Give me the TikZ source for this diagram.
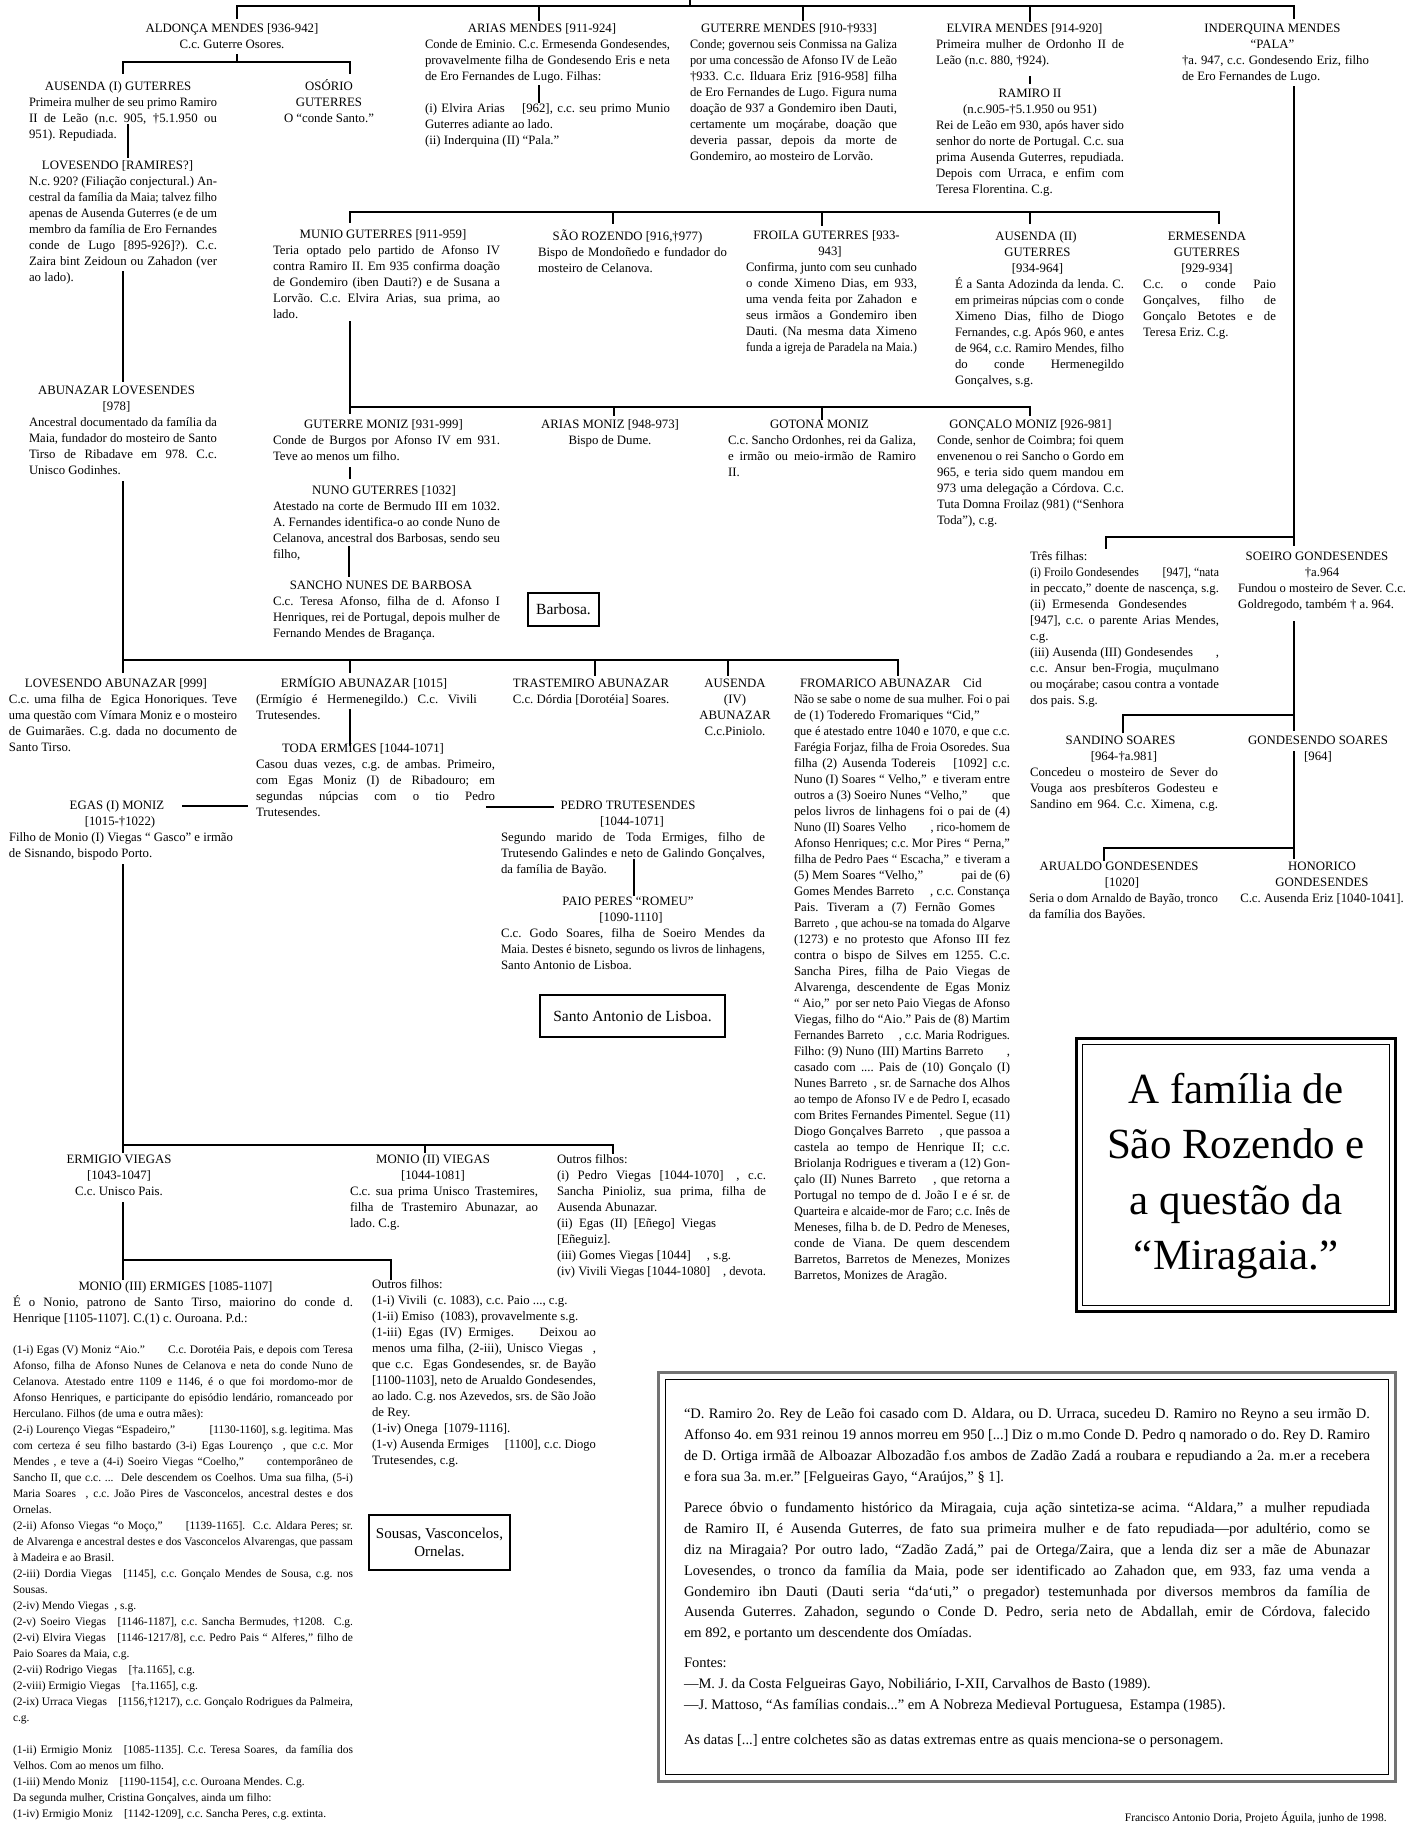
\documentclass[tikz,border=0pt]{standalone}
\usepackage{fontspec}
\setmainfont{Liberation Serif}
\usepackage{graphicx}
\hbadness=10000
\hfuzz=3pt
\newsavebox\lnbox
\newcommand\fb{\fontsize{12.8}{16}\selectfont}
\newcommand\fsm{\fontsize{11.5}{16}\selectfont}
\newcommand\fbx{\fontsize{14.5}{20.8}\selectfont}
\newcommand\sr{\vrule height 0.93em depth 0.27em width 0pt}
\newcommand\Jl[1]{\par\sbox\lnbox{#1}\ifdim\wd\lnbox>\hsize
  \hbox to\hsize{\sr\resizebox{\hsize}{\height}{\usebox\lnbox}}\else
  \hbox to\hsize{\sr#1}\fi}
\newcommand\Kl[1]{\par\sbox\lnbox{#1}\ifdim\wd\lnbox>\hsize
  \hbox to\hsize{\sr\resizebox{\hsize}{\height}{\usebox\lnbox}}\else
  \hbox to\hsize{\sr#1\hfil}\fi}
\newcommand\Cl[2][0pt]{\par\sbox\lnbox{#2}\ifdim\wd\lnbox>\hsize
  \hbox to\hsize{\sr\resizebox{\hsize}{\height}{\usebox\lnbox}}\else
  \hbox to\hsize{\sr\hfil\hskip#1\relax\usebox\lnbox\hfil}\fi}
\newcommand\Bl{\par\hbox{\sr}}
\newcommand\blk[6][\fb]{\node[blkn] (#2) at (#3,{#4-8.2}) {\vbox{#1\frenchspacing\hsize=#5pt\relax#6}};}
\tikzset{
  blkn/.style={anchor=north west, inner sep=0pt, outer sep=0pt},
  ln/.style={line width=1.3pt, line cap=rect},
  boxn/.style={draw, line width=2.5pt, inner sep=0pt, align=center},
}
\begin{document}
\frenchspacing
\begin{tikzpicture}[x=1pt,y=-1pt]
\useasboundingbox (0,0) rectangle (1407,1823);
\fill[white] (0,0) rectangle (1407,1823);

% ---------------- top row
\blk{aldonca}{132}{29}{200}{\Cl{ALDONÇA MENDES [936-942]}\Cl{C.c. Guterre Osores.}}
\blk{arias}{425}{29}{245}{\Cl[-11pt]{ARIAS MENDES [911-924]}\Jl{Conde de Eminio. C.c. Ermesenda Gondesendes,}\Jl{provavelmente filha de Gondesendo Eris e neta}\Kl{de Ero Fernandes de Lugo. Filhas:}\Bl\Jl{(i) Elvira Arias\quad\ [962], c.c. seu primo Munio}\Kl{Guterres adiante ao lado.}\Kl{(ii) Inderquina (II) “Pala.”}}
\blk{guterre}{690}{29}{207}{\Cl[-9pt]{GUTERRE MENDES [910-†933]}\Jl{Conde; governou seis Conmissa na Galiza}\Jl{por uma concessão de Afonso IV de Leão}\Jl{†933. C.c. Ilduara Eriz [916-958] filha}\Jl{de Ero Fernandes de Lugo. Figura numa}\Jl{doação de 937 a Gondemiro iben Dauti,}\Jl{certamente um moçárabe, doação que}\Jl{deveria passar, depois da morte de}\Kl{Gondemiro, ao mosteiro de Lorvão.}}
\blk{elvira}{936}{29}{188}{\Cl[-11pt]{ELVIRA MENDES [914-920]}\Jl{Primeira mulher de Ordonho II de}\Kl{Leão (n.c. 880, †924).}}
\blk{ramiro}{936}{94}{188}{\Cl{RAMIRO II}\Cl{(n.c.905-†5.1.950 ou 951)}\Jl{Rei de Leão em 930, após haver sido}\Jl{senhor do norte de Portugal. C.c. sua}\Jl{prima Ausenda Guterres, repudiada.}\Jl{Depois com Urraca, e enfim com}\Kl{Teresa Florentina. C.g.}}
\blk{inderquina}{1182}{29}{187}{\Cl[-6pt]{INDERQUINA MENDES}\Cl[-6pt]{“PALA”}\Jl{†a. 947, c.c. Gondesendo Eriz, filho}\Kl{de Ero Fernandes de Lugo.}}

% ---------------- left column
\blk{ausendaA}{29}{86.5}{188}{\Cl[-10pt]{AUSENDA (I) GUTERRES}\Jl{Primeira mulher de seu primo Ramiro}\Jl{II de Leão (n.c. 905, †5.1.950 ou}\Kl{951). Repudiada.}}
\blk{osorio}{279}{86.5}{100}{\Cl{OSÓRIO}\Cl{GUTERRES}\Cl{O “conde Santo.”}}
\blk{lovesendo}{29}{166}{188}{\Cl[-11pt]{LOVESENDO [RAMIRES?]}\Jl{N.c. 920? (Filiação conjectural.) An-}\Jl{cestral da família da Maia; talvez filho}\Jl{apenas de Ausenda Guterres (e de um}\Jl{membro da família de Ero Fernandes}\Jl{conde de Lugo [895-926]?). C.c.}\Jl{Zaira bint Zeidoun ou Zahadon (ver}\Kl{ao lado).}}
\blk{abunazar}{29}{391}{188}{\Cl[-13pt]{ABUNAZAR LOVESENDES}\Cl[-13pt]{[978]}\Jl{Ancestral documentado da família da}\Jl{Maia, fundador do mosteiro de Santo}\Jl{Tirso de Ribadave em 978. C.c.}\Kl{Unisco Godinhes.}}

% ---------------- second row
\blk{munio}{273}{235}{227}{\Cl[-7pt]{MUNIO GUTERRES [911-959]}\Jl{Teria optado pelo partido de Afonso IV}\Jl{contra Ramiro II. Em 935 confirma doação}\Jl{de Gondemiro (iben Dauti?) e de Susana a}\Jl{Lorvão. C.c. Elvira Arias, sua prima, ao}\Kl{lado.}}
\blk{rozendo}{538}{237}{189}{\Cl[-10pt]{SÃO ROZENDO [916,†977)}\Jl{Bispo de Mondoñedo e fundador do}\Kl{mosteiro de Celanova.}}
\blk{froila}{746}{236}{171}{\Cl[-10pt]{FROILA GUTERRES [933-}\Cl[-3pt]{943]}\Jl{Confirma, junto com seu cunhado}\Jl{o conde Ximeno Dias, em 933,}\Jl{uma venda feita por Zahadon\ \ e}\Jl{seus irmãos a Gondemiro iben}\Jl{Dauti. (Na mesma data Ximeno}\Jl{funda a igreja de Paradela na Maia.)}}
\blk{ausendaB}{955}{237}{169}{\Cl[-7pt]{AUSENDA (II)}\Cl[-4pt]{GUTERRES}\Cl[-4pt]{[934-964]}\Jl{É a Santa Adozinda da lenda. C.}\Jl{em primeiras núpcias com o conde}\Jl{Ximeno Dias, filho de Diogo}\Jl{Fernandes, c.g. Após 960, e antes}\Jl{de 964, c.c. Ramiro Mendes, filho}\Jl{do conde Hermenegildo}\Kl{Gonçalves, s.g.}}
\blk{ermesenda}{1143}{237}{133}{\Cl[-5pt]{ERMESENDA}\Cl[-5pt]{GUTERRES}\Cl[-5pt]{[929-934]}\Jl{C.c. o conde Paio}\Jl{Gonçalves, filho de}\Jl{Gonçalo Betotes e de}\Kl{Teresa Eriz. C.g.}}

% ---------------- third row
\blk{gmoniz}{273}{425}{227}{\Cl[-6pt]{GUTERRE MONIZ [931-999]}\Jl{Conde de Burgos por Afonso IV em 931.}\Kl{Teve ao menos um filho.}}
\blk{nuno}{273}{491}{227}{\Cl[-5pt]{NUNO GUTERRES [1032]}\Jl{Atestado na corte de Bermudo III em 1032.}\Jl{A. Fernandes identifica-o ao conde Nuno de}\Jl{Celanova, ancestral dos Barbosas, sendo seu}\Kl{filho,}}
\blk{sancho}{273}{586}{227}{\Cl[-11pt]{SANCHO NUNES DE BARBOSA}\Jl{C.c. Teresa Afonso, filha de d. Afonso I}\Jl{Henriques, rei de Portugal, depois mulher de}\Kl{Fernando Mendes de Bragança.}}
\blk{amoniz}{540}{425}{140}{\Cl{ARIAS MONIZ [948-973]}\Cl{Bispo de Dume.}}
\blk{gotona}{728}{425}{188}{\Cl[-5pt]{GOTONA MONIZ}\Jl{C.c. Sancho Ordonhes, rei da Galiza,}\Jl{e irmão ou meio-irmão de Ramiro}\Kl{II.}}
\blk{goncalo}{937}{425}{187}{\Cl{GONÇALO MONIZ [926-981]}\Jl{Conde, senhor de Coimbra; foi quem}\Jl{envenenou o rei Sancho o Gordo em}\Jl{965, e teria sido quem mandou em}\Jl{973 uma delegação a Córdova. C.c.}\Jl{Tuta Domna Froilaz (981) (“Senhora}\Kl{Toda”), c.g.}}

% ---------------- right column
\blk{tres}{1030}{557}{189}{\Kl{Três filhas:}\Jl{(i) Froilo Gondesendes\qquad [947], “nata}\Jl{in peccato,” doente de nascença, s.g.}\Kl{(ii)\ \ Ermesenda\ \ \ Gondesendes}\Jl{[947], c.c. o parente Arias Mendes,}\Kl{c.g.}\Jl{(iii) Ausenda (III) Gondesendes\hfill,}\Jl{c.c. Ansur ben-Frogia, muçulmano}\Jl{ou moçárabe; casou contra a vontade}\Kl{dos pais. S.g.}}
\blk{soeiro}{1238}{557}{168}{\Cl[-10pt]{SOEIRO GONDESENDES}\Cl{†a.964}\Jl{Fundou o mosteiro de Sever. C.c.}\Kl{Goldregodo, também † a. 964.}}
\blk{sandino}{1030}{741}{188}{\Cl[-7pt]{SANDINO SOARES}\Cl{[964-†a.981]}\Jl{Concedeu o mosteiro de Sever do}\Jl{Vouga aos presbíteros Godesteu e}\Jl{Sandino em 964. C.c. Ximena, c.g.}}
\blk{gondesendo}{1238}{741}{160}{\Cl{GONDESENDO SOARES}\Cl{[964]}}
\blk{arualdo}{1029}{867}{189}{\Cl[-9pt]{ARUALDO GONDESENDES}\Cl[-3pt]{[1020]}\Jl{Seria o dom Arnaldo de Bayão, tronco}\Kl{da família dos Bayões.}}
\blk{honorico}{1237}{867}{170}{\Cl{HONORICO}\Cl{GONDESENDES}\Cl{C.c. Ausenda Eriz [1040-1041].}}

% ---------------- Abunazar's children
\blk{lovab}{9}{684}{228}{\Cl[-14pt]{LOVESENDO ABUNAZAR [999]}\Jl{C.c. uma filha de\ \ Egica Honoriques. Teve}\Jl{uma questão com Vímara Moniz e o mosteiro}\Jl{de Guimarães. C.g. dada no documento de}\Kl{Santo Tirso.}}
\blk{egas}{9}{806}{224}{\Cl[-8pt]{EGAS (I) MONIZ}\Cl[-2pt]{[1015-†1022)}\Jl{Filho de Monio (I) Viegas “ Gasco” e irmão}\Kl{de Sisnando, bispodo Porto.}}
\blk{ermigio}{256}{684}{221}{\Cl[-5pt]{ERMÍGIO ABUNAZAR [1015]}\Jl{(Ermígio é Hermenegildo.) C.c. Vivili}\Kl{Trutesendes.}}
\blk{toda}{256}{749}{239}{\Cl[-25pt]{TODA ERMIGES [1044-1071]}\Jl{Casou duas vezes, c.g. de ambas. Primeiro,}\Jl{com Egas Moniz (I) de Ribadouro; em}\Jl{segundas núpcias com o tio Pedro}\Kl{Trutesendes.}}
\blk{trast}{491}{684}{200}{\Cl{TRASTEMIRO ABUNAZAR}\Cl{C.c. Dórdia [Dorotéia] Soares.}}
\blk{ausendaD}{695}{684}{80}{\Cl{AUSENDA}\Cl{(IV)}\Cl{ABUNAZAR}\Cl{C.c.Piniolo.}}
\blk{fromarico}{794}{684}{216}{\Kl{\hskip6pt FROMARICO ABUNAZAR\quad Cid}\Jl{Não se sabe o nome de sua mulher. Foi o pai}\Kl{de (1) Toderedo Fromariques “Cid,”}\Jl{que é atestado entre 1040 e 1070, e que c.c.}\Jl{Farégia Forjaz, filha de Froia Osoredes. Sua}\Jl{filha (2) Ausenda Todereis\quad\ [1092] c.c.}\Jl{Nuno (I) Soares “ Velho,”\ \ e tiveram entre}\Jl{outros a (3) Soeiro Nunes “Velho,”\qquad que}\Jl{pelos livros de linhagens foi o pai de (4)}\Jl{Nuno (II) Soares Velho\qquad , rico-homem de}\Jl{Afonso Henriques; c.c. Mor Pires “ Perna,”}\Jl{filha de Pedro Paes “ Escacha,”\ \ e tiveram a}\Jl{(5) Mem Soares “Velho,”\qquad\quad pai de (6)}\Jl{Gomes Mendes Barreto\quad\ , c.c. Constança}\Jl{Pais. Tiveram a (7) Fernão Gomes\hskip15pt}\Jl{Barreto\ \ , que achou-se na tomada do Algarve}\Jl{(1273) e no protesto que Afonso III fez}\Jl{contra o bispo de Silves em 1255. C.c.}\Jl{Sancha Pires, filha de Paio Viegas de}\Jl{Alvarenga, descendente de Egas Moniz}\Jl{“ Aio,”\ \ por ser neto Paio Viegas de Afonso}\Jl{Viegas, filho do “Aio.” Pais de (8) Martim}\Jl{Fernandes Barreto\quad\ , c.c. Maria Rodrigues.}\Jl{Filho: (9) Nuno (III) Martins Barreto\hfill,}\Jl{casado com .... Pais de (10) Gonçalo (I)}\Jl{Nunes Barreto\ \ , sr. de Sarnache dos Alhos}\Jl{ao tempo de Afonso IV e de Pedro I, ecasado}\Jl{com Brites Fernandes Pimentel. Segue (11)}\Jl{Diogo Gonçalves Barreto\quad\ , que passoa a}\Jl{castela ao tempo de Henrique II; c.c.}\Jl{Briolanja Rodrigues e tiveram a (12) Gon-}\Jl{çalo (II) Nunes Barreto\quad\ , que retorna a}\Jl{Portugal no tempo de d. João I e é sr. de}\Jl{Quarteira e alcaide-mor de Faro; c.c. Inês de}\Jl{Meneses, filha b. de D. Pedro de Meneses,}\Jl{conde de Viana. De quem descendem}\Jl{Barretos, Barretos de Menezes, Monizes}\Kl{Barretos, Monizes de Aragão.}}
\blk{pedro}{501}{806}{264}{\Cl[-10pt]{PEDRO TRUTESENDES}\Cl[-2pt]{[1044-1071]}\Jl{Segundo marido de Toda Ermiges, filho de}\Jl{Trutesendo Galindes e neto de Galindo Gonçalves,}\Kl{da família de Bayão.}}
\blk{paio}{501}{902}{264}{\Cl[-10pt]{PAIO PERES “ROMEU”}\Cl[-4pt]{[1090-1110]}\Jl{C.c. Godo Soares, filha de Soeiro Mendes da}\Jl{Maia. Destes é bisneto, segundo os livros de linhagens,}\Kl{Santo Antonio de Lisboa.}}

% ---------------- Egas' children
\blk{ermvieg}{49}{1160}{140}{\Cl{ERMIGIO VIEGAS}\Cl{[1043-1047]}\Cl{C.c. Unisco Pais.}}
\blk{monioB}{350}{1160}{188}{\Cl[-22pt]{MONIO (II) VIEGAS}\Cl[-22pt]{[1044-1081]}\Jl{C.c. sua prima Unisco Trastemires,}\Jl{filha de Trastemiro Abunazar, ao}\Kl{lado. C.g.}}
\blk{outrosA}{557}{1160}{209}{\Kl{Outros filhos:}\Jl{(i) Pedro Viegas [1044-1070]\quad , c.c.}\Jl{Sancha Pinioliz, sua prima, filha de}\Kl{Ausenda Abunazar.}\Kl{(ii)\ \ Egas\ \ (II)\ \ [Eñego]\ \ Viegas}\Kl{[Eñeguiz].}\Kl{(iii) Gomes Viegas [1044]\quad\ , s.g.}\Jl{(iv) Vivili Viegas [1044-1080]\quad , devota.}}
\blk{monioC}{13}{1287}{340}{\Cl[-15pt]{MONIO (III) ERMIGES [1085-1107]}\Jl{É o Nonio, patrono de Santo Tirso, maiorino do conde d.}\Kl{Henrique [1105-1107]. C.(1) c. Ouroana. P.d.:}}
\blk[\fsm]{monioD}{13}{1351}{340}{\Jl{(1-i) Egas (V) Moniz “Aio.”\qquad C.c. Dorotéia Pais, e depois com Teresa}\Jl{Afonso, filha de Afonso Nunes de Celanova e neta do conde Nuno de}\Jl{Celanova. Atestado entre 1109 e 1146, é o que foi mordomo-mor de}\Jl{Afonso Henriques, e participante do episódio lendário, romanceado por}\Kl{Herculano. Filhos (de uma e outra mães):}\Jl{(2-i) Lourenço Viegas “Espadeiro,”\qquad\quad [1130-1160], s.g. legitima. Mas}\Jl{com certeza é seu filho bastardo (3-i) Egas Lourenço\ \ , que c.c. Mor}\Jl{Mendes , e teve a (4-i) Soeiro Viegas “Coelho,”\qquad contemporâneo de}\Jl{Sancho II, que c.c. ...\ \ Dele descendem os Coelhos. Uma sua filha, (5-i)}\Jl{Maria Soares\ \ , c.c. João Pires de Vasconcelos, ancestral destes e dos}\Kl{Ornelas.}\Jl{(2-ii) Afonso Viegas “o Moço,”\qquad [1139-1165].\ \ C.c. Aldara Peres; sr.}\Jl{de Alvarenga e ancestral destes e dos Vasconcelos Alvarengas, que passam}\Kl{à Madeira e ao Brasil.}\Jl{(2-iii) Dordia Viegas\quad [1145], c.c. Gonçalo Mendes de Sousa, c.g. nos}\Kl{Sousas.}\Kl{(2-iv) Mendo Viegas\ \ , s.g.}\Jl{(2-v) Soeiro Viegas\quad [1146-1187], c.c. Sancha Bermudes, †1208.\ \ C.g.}\Jl{(2-vi) Elvira Viegas\quad [1146-1217/8], c.c. Pedro Pais “ Alferes,” filho de}\Kl{Paio Soares da Maia, c.g.}\Kl{(2-vii) Rodrigo Viegas\quad [†a.1165], c.g.}\Kl{(2-viii) Ermigio Viegas\quad [†a.1165], c.g.}\Jl{(2-ix) Urraca Viegas\quad [1156,†1217), c.c. Gonçalo Rodrigues da Palmeira,}\Kl{c.g.}\Bl\Jl{(1-ii) Ermigio Moniz\quad [1085-1135]. C.c. Teresa Soares,\ \ da família dos}\Kl{Velhos. Com ao menos um filho.}\Kl{(1-iii) Mendo Moniz\quad [1190-1154], c.c. Ouroana Mendes. C.g.}\Kl{Da segunda mulher, Cristina Gonçalves, ainda um filho:}\Kl{(1-iv) Ermigio Moniz\quad [1142-1209], c.c. Sancha Peres, c.g. extinta.}}
\blk{outrosB}{372}{1285}{224}{\Kl{Outros filhos:}\Kl{(1-i) Vivili\ \ (c. 1083), c.c. Paio ..., c.g.}\Kl{(1-ii) Emiso\ \ (1083), provavelmente s.g.}\Jl{(1-iii) Egas (IV) Ermiges.\qquad Deixou ao}\Jl{menos uma filha, (2-iii), Unisco Viegas\ \ ,}\Jl{que c.c.\ \ Egas Gondesendes, sr. de Bayão}\Jl{[1100-1103], neto de Arualdo Gondesendes,}\Jl{ao lado. C.g. nos Azevedos, srs. de São João}\Kl{de Rey.}\Kl{(1-iv) Onega\ \ [1079-1116].}\Jl{(1-v) Ausenda Ermiges\quad\ [1100], c.c. Diogo}\Kl{Trutesendes, c.g.}}

% ---------------- boxes
\node[boxn, font=\fontsize{15.5}{18}\selectfont, minimum width=71pt, minimum height=33pt] (barbosa) at (563.5,609.5) {Barbosa.};
\node[boxn, font=\fontsize{15.5}{18}\selectfont, minimum width=185pt, minimum height=42pt] (lisboa) at (632.5,1016) {Santo Antonio de Lisboa.};
\node[boxn, font=\fontsize{15}{18}\selectfont, minimum width=141pt, minimum height=55pt] (sousas) at (439.5,1542.5) {Sousas, Vasconcelos,\\Ornelas.};

\node[draw, line width=3pt, minimum width=319pt, minimum height=273pt, inner sep=0pt] (tframeA) at (1235.5,1174.5) {};
\node[draw, line width=1pt, minimum width=307pt, minimum height=261pt, inner sep=0pt] (tframeB) at (1235.5,1174.5) {};
\node[font=\fontsize{43}{55.5}\selectfont, align=center, inner sep=0pt] (title) at (1236,1176) {A família de\\São Rozendo e\\a questão da\\“Miragaia.”};

\node[draw=black!55, line width=3pt, minimum width=737pt, minimum height=409pt, inner sep=0pt] (nframeA) at (1026.5,1576.5) {};
\node[draw, line width=0.9pt, minimum width=723pt, minimum height=395pt, inner sep=0pt] (nframeB) at (1026.5,1576.5) {};
\blk[\fbx]{noteA}{684}{1413.5}{686}{\Jl{“D. Ramiro 2o. Rey de Leão foi casado com D. Aldara, ou D. Urraca, sucedeu D. Ramiro no Reyno a seu irmão D.}\Jl{Affonso 4o. em 931 reinou 19 annos morreu em 950 [...] Diz o m.mo Conde D. Pedro q namorado o do. Rey D. Ramiro}\Jl{de D. Ortiga irmãã de Alboazar Albozadão f.os ambos de Zadão Zadá a roubara e repudiando a 2a. m.er a recebera}\Kl{e fora sua 3a. m.er.” [Felgueiras Gayo, “Araújos,” § 1].}}
\blk[\fbx]{noteB}{684}{1507.5}{686}{\Jl{Parece óbvio o fundamento histórico da Miragaia, cuja ação sintetiza-se acima. “Aldara,” a mulher repudiada}\Jl{de Ramiro II, é Ausenda Guterres, de fato sua primeira mulher e de fato repudiada—por adultério, como se}\Jl{diz na Miragaia? Por outro lado, “Zadão Zadá,” pai de Ortega/Zaira, que a lenda diz ser a mãe de Abunazar}\Jl{Lovesendes, o tronco da família da Maia, pode ser identificado ao Zahadon que, em 933, faz uma venda a}\Jl{Gondemiro ibn Dauti (Dauti seria “da‘uti,” o pregador) testemunhada por diversos membros da família de}\Jl{Ausenda Guterres. Zahadon, segundo o Conde D. Pedro, seria neto de Abdallah, emir de Córdova, falecido}\Kl{em 892, e portanto um descendente dos Omíadas.}}
\blk[\fbx]{noteC}{684}{1662.5}{686}{\Kl{Fontes:}\Kl{—M. J. da Costa Felgueiras Gayo, Nobiliário, I-XII, Carvalhos de Basto (1989).}\Kl{—J. Mattoso, “As famílias condais...” em A Nobreza Medieval Portuguesa,\ \ Estampa (1985).}}
\blk[\fbx]{noteD}{684}{1739.5}{686}{\Kl{As datas [...] entre colchetes são as datas extremas entre as quais menciona-se o personagem.}}
\node[anchor=base east, inner sep=0pt, font=\fontsize{11.5}{13}\selectfont] (footer) at (1387,1821) {Francisco Antonio Doria, Projeto Águila, junho de 1998.};

% ---------------- connector coordinates
\coordinate (t0) at (690,0); \coordinate (t1) at (690,6);
\coordinate (ta) at (237,6); \coordinate (tb) at (1294,6);
\coordinate (t2) at (539,6); \coordinate (t3) at (803,6); \coordinate (t4) at (1030,6);
\coordinate (d1) at (237,18); \coordinate (d2) at (539,20); \coordinate (d3) at (803,20);
\coordinate (d4) at (1030,21); \coordinate (d5) at (1294,18);
\coordinate (a0) at (237,55); \coordinate (a1) at (237,62);
\coordinate (a2) at (123,62); \coordinate (a3) at (350,62);
\coordinate (a4) at (123,73); \coordinate (a5) at (350,73);
\coordinate (b0) at (128,125); \coordinate (b1) at (128,157);
\coordinate (b2) at (123,272); \coordinate (b3) at (123,381);
\coordinate (c0) at (539,86); \coordinate (c1) at (539,102);
\coordinate (c2) at (1030,77); \coordinate (c3) at (1030,83);
\coordinate (g0) at (350,212); \coordinate (g1) at (1219,212);
\coordinate (g2) at (350,222); \coordinate (g3) at (613,212); \coordinate (g4) at (613,223);
\coordinate (g5) at (822,212); \coordinate (g6) at (822,225);
\coordinate (g7) at (1030,212); \coordinate (g8) at (1030,223); \coordinate (g9) at (1219,223);
\coordinate (m0) at (350,322); \coordinate (m1) at (350,407); \coordinate (m2) at (1030,407);
\coordinate (m3) at (350,413); \coordinate (m4) at (614,407); \coordinate (m5) at (614,415);
\coordinate (m6) at (822,407); \coordinate (m7) at (822,419); \coordinate (m8) at (1030,415);
\coordinate (n0) at (350,468); \coordinate (n1) at (350,478);
\coordinate (n2) at (349,547); \coordinate (n3) at (349,576);
\coordinate (i0) at (1294,87); \coordinate (i1) at (1294,545);
\coordinate (i2) at (1106,537); \coordinate (i3) at (1294,537); \coordinate (i4) at (1106,548);
\coordinate (s0) at (1294,622); \coordinate (s1) at (1294,730);
\coordinate (s2) at (1123,715); \coordinate (s3) at (1294,715); \coordinate (s4) at (1123,732);
\coordinate (s5) at (1294,752); \coordinate (s6) at (1294,858);
\coordinate (s7) at (1104,848); \coordinate (s8) at (1294,848); \coordinate (s9) at (1104,860);
\coordinate (e0) at (123,482); \coordinate (e1) at (123,672);
\coordinate (e2) at (123,660); \coordinate (e3) at (898,660); \coordinate (e4) at (898,675);
\coordinate (e5) at (350,660); \coordinate (e6) at (350,672);
\coordinate (e7) at (595,660); \coordinate (e8) at (595,675);
\coordinate (e9) at (728,660); \coordinate (e10) at (728,675);
\coordinate (f0) at (350,710); \coordinate (f1) at (350,745);
\coordinate (h0) at (183,806); \coordinate (h1) at (247,806);
\coordinate (h2) at (487,807); \coordinate (h3) at (553,807);
\coordinate (p0) at (634,860); \coordinate (p1) at (634,895);
\coordinate (k0) at (123,865); \coordinate (k1) at (123,1152);
\coordinate (k2) at (123,1145); \coordinate (k3) at (613,1145);
\coordinate (k4) at (425,1145); \coordinate (k5) at (425,1152); \coordinate (k6) at (613,1153);
\coordinate (q0) at (123,1203); \coordinate (q1) at (123,1279);
\coordinate (q2) at (123,1260); \coordinate (q3) at (391,1260); \coordinate (q4) at (391,1279);

% ---------------- connectors
\draw[ln] (t0)--(t1);
\draw[ln] (ta)--(tb);
\draw[ln] (ta)--(d1); \draw[ln] (t2)--(d2); \draw[ln] (t3)--(d3);
\draw[ln] (t4)--(d4); \draw[ln] (tb)--(d5);
\draw[ln] (a0)--(a1); \draw[ln] (a2)--(a3); \draw[ln] (a2)--(a4); \draw[ln] (a3)--(a5);
\draw[ln] (b0)--(b1); \draw[ln] (b2)--(b3);
\draw[ln] (c0)--(c1); \draw[ln] (c2)--(c3);
\draw[ln] (g0)--(g1); \draw[ln] (g0)--(g2); \draw[ln] (g3)--(g4);
\draw[ln] (g5)--(g6); \draw[ln] (g7)--(g8); \draw[ln] (g1)--(g9);
\draw[ln] (m0)--(m1); \draw[ln] (m1)--(m2); \draw[ln] (m1)--(m3);
\draw[ln] (m4)--(m5); \draw[ln] (m6)--(m7); \draw[ln] (m2)--(m8);
\draw[ln] (n0)--(n1); \draw[ln] (n2)--(n3);
\draw[ln] (i0)--(i1); \draw[ln] (i2)--(i3); \draw[ln] (i2)--(i4);
\draw[ln] (s0)--(s1); \draw[ln] (s2)--(s3); \draw[ln] (s2)--(s4);
\draw[ln] (s5)--(s6); \draw[ln] (s7)--(s8); \draw[ln] (s7)--(s9);
\draw[ln] (e0)--(e1); \draw[ln] (e2)--(e3); \draw[ln] (e3)--(e4);
\draw[ln] (e5)--(e6); \draw[ln] (e7)--(e8); \draw[ln] (e9)--(e10);
\draw[ln] (f0)--(f1);
\draw[ln] (h0)--(h1); \draw[ln] (h2)--(h3);
\draw[ln] (p0)--(p1);
\draw[ln] (k0)--(k1); \draw[ln] (k2)--(k3); \draw[ln] (k4)--(k5); \draw[ln] (k3)--(k6);
\draw[ln] (q0)--(q1); \draw[ln] (q2)--(q3); \draw[ln] (q3)--(q4);
\end{tikzpicture}
\end{document}
